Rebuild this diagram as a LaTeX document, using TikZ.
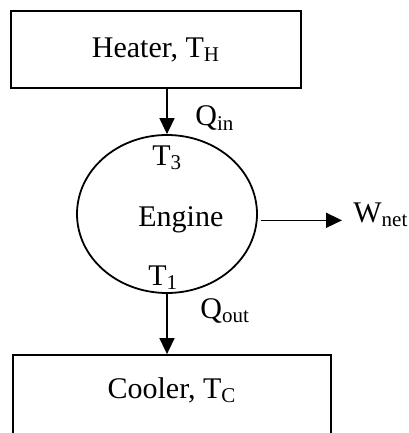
\documentclass[tikz,border=0pt]{standalone}
\usepackage{fontspec}
\setmainfont{Liberation Serif}
\usetikzlibrary{arrows.meta,positioning,shapes.geometric}

\begin{document}
\begin{tikzpicture}[x=0.5pt,y=-0.5pt,
  hbox/.style={draw,line width=0.9pt,minimum width=145pt,minimum height=38.5pt,
               font=\fontsize{15}{18}\selectfont},
  lbl/.style={anchor=base west,inner sep=0pt,font=\fontsize{15}{18}\selectfont},
  harr/.style={-{Triangle[length=8pt,width=7.5pt]},line width=0.8pt}
]
\clip (0,0) rectangle (408,433);
\node[hbox] (heater) at (156,49.5) {Heater, T\textsubscript{H}};
\node[draw,ellipse,line width=0.9pt,minimum width=90pt,minimum height=79pt] (engine) at (167,214) {};
\node[hbox,minimum width=159pt,minimum height=43.5pt,text height=10pt,text depth=10pt] (cooler) at (172,398.5) {Cooler, T\textsubscript{C}};
\node[lbl] (tthree) at (152,165) {T\textsubscript{3}};
\node[lbl] (eng) at (138,226) {Engine};
\node[lbl] (tone) at (148,285) {T\textsubscript{1}};
\node[lbl] (qin) at (195,126) {Q\textsubscript{in}};
\node[lbl] (qout) at (200,318) {Q\textsubscript{out}};
\node[lbl] (wnet) at (353,222) {W\textsubscript{net}};
\coordinate (wtip) at (342,220);
\draw[harr] (engine.north |- heater.south) -- (engine.north);
\draw[harr] (engine.south) -- (engine.south |- cooler.north);
\draw[harr,shorten <=1.5pt] (engine.-4) -- (engine.-4 -| wtip);
\end{tikzpicture}
\end{document}
